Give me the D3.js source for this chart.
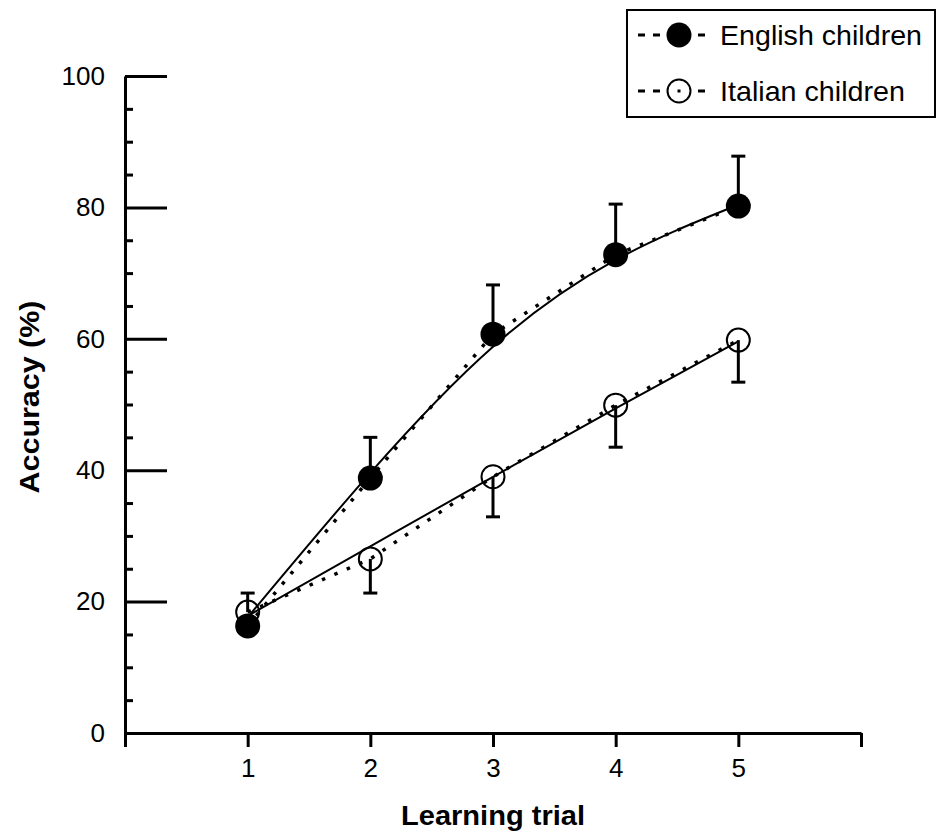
<!DOCTYPE html>
<html>
<head>
<meta charset="utf-8">
<script src="https://cdn.jsdelivr.net/npm/d3@7"></script>
<style>
  html, body { margin: 0; padding: 0; background: #fff; }
  svg { display: block; font-family: "Liberation Sans", Arial, Helvetica, sans-serif; }
</style>
</head>
<body>
<svg id="chart" width="938" height="833"></svg>
<script>
// ---- data ----
const trials = [1, 2, 3, 4, 5];
const englishMean = [16.3, 38.8, 60.7, 72.8, 80.2];
const italianMean = [18.4, 26.5, 39.0, 49.9, 59.8];
// error bar end values (English bars point up, Italian bars mostly down)
const englishBarEnd = [15.0, 45.0, 68.2, 80.5, 87.8];
const italianBarEnd = [21.3, 21.3, 32.9, 43.5, 53.4];
// fitted (solid) trend values
const englishFit = [17.6, 39.6, 58.8, 72.0, 80.4];
const italianFit = [17.8, 28.4, 39.0, 49.4, 59.6];
const yMajorTicks = [0, 20, 40, 60, 80, 100];
const yMinorTicks = [5, 10, 15, 25, 30, 35, 45, 50, 55, 65, 70, 75, 85, 90, 95];
const xTicks = [0, 1, 2, 3, 4, 5, 6];
const xLabels = ["", "1", "2", "3", "4", "5", ""];
const seriesNames = ["English children", "Italian children"];
const xTitle = "Learning trial";
const yTitle = "Accuracy (%)";

// ---- layout ----
const svg = d3.select("#chart");
const x = d3.scaleLinear().domain([0, 6]).range([125, 861]);
const y = d3.scaleLinear().domain([0, 100]).range([733, 76]);

// ---- axes ----
const yMajor = svg.append("g").attr("transform", `translate(${x(0)},0)`)
  .call(d3.axisLeft(y).tickValues(yMajorTicks).tickSize(-42).tickSizeOuter(0).tickPadding(20));
yMajor.select(".domain").attr("stroke-width", 3);
yMajor.selectAll(".tick line").attr("stroke-width", 3);
yMajor.selectAll(".tick text").attr("font-size", 26).attr("fill", "#000")
  .attr("font-family", "Liberation Sans, Arial, sans-serif");

const yMinor = svg.append("g").attr("transform", `translate(${x(0)},0)`)
  .call(d3.axisLeft(y).tickValues(yMinorTicks).tickSize(-8).tickSizeOuter(0).tickFormat(""));
yMinor.select(".domain").remove();
yMinor.selectAll(".tick line").attr("stroke-width", 3);

const xAxis = svg.append("g").attr("transform", `translate(0,${y(0)})`)
  .call(d3.axisBottom(x).tickValues(xTicks).tickSize(14).tickSizeOuter(0).tickPadding(12)
    .tickFormat((d, i) => xLabels[i]));
xAxis.select(".domain").attr("stroke-width", 3);
xAxis.selectAll(".tick line").attr("stroke-width", 3);
xAxis.selectAll(".tick text").attr("font-size", 26).attr("fill", "#000")
  .attr("font-family", "Liberation Sans, Arial, sans-serif");

// titles
svg.append("text").attr("x", 493).attr("y", 825)
  .attr("text-anchor", "middle").attr("font-size", 28).attr("font-weight", "bold")
  .attr("textLength", 184).attr("lengthAdjust", "spacingAndGlyphs")
  .text(xTitle);
svg.append("text").attr("transform", `translate(39,397) rotate(-90)`)
  .attr("text-anchor", "middle").attr("font-size", 27).attr("font-weight", "bold")
  .attr("textLength", 193).attr("lengthAdjust", "spacingAndGlyphs")
  .text(yTitle);

// ---- lines ----
const fitLine = d3.line().x((d, i) => x(trials[i])).y(d => y(d)).curve(d3.curveNatural);
const dotLine = d3.line().x((d, i) => x(trials[i])).y(d => y(d));

[englishFit, italianFit].forEach(s => {
  svg.append("path").attr("d", fitLine(s)).attr("fill", "none")
    .attr("stroke", "#000").attr("stroke-width", 2);
});
[englishMean, italianMean].forEach(s => {
  svg.append("path").attr("d", dotLine(s)).attr("fill", "none")
    .attr("stroke", "#000").attr("stroke-width", 3.5).attr("stroke-dasharray", "3.5 10");
});

// ---- error bars ----
function errorBars(means, ends) {
  const g = svg.append("g");
  trials.forEach((t, i) => {
    g.append("line").attr("x1", x(t)).attr("x2", x(t))
      .attr("y1", y(means[i])).attr("y2", y(ends[i]))
      .attr("stroke", "#000").attr("stroke-width", 3);
    g.append("line").attr("x1", x(t) - 7).attr("x2", x(t) + 7)
      .attr("y1", y(ends[i])).attr("y2", y(ends[i]))
      .attr("stroke", "#000").attr("stroke-width", 3);
  });
}
errorBars(italianMean, italianBarEnd);
errorBars(englishMean, englishBarEnd);

// ---- markers ----
svg.append("g").selectAll("circle").data(italianMean).join("circle")
  .attr("cx", (d, i) => x(trials[i])).attr("cy", d => y(d)).attr("r", 11.5)
  .attr("fill", "none").attr("stroke", "#000").attr("stroke-width", 2);
svg.append("g").selectAll("circle").data(englishMean).join("circle")
  .attr("cx", (d, i) => x(trials[i])).attr("cy", d => y(d)).attr("r", 12.5)
  .attr("fill", "#000");

// ---- legend ----
const lg = svg.append("g");
lg.append("rect").attr("x", 627).attr("y", 10).attr("width", 308).attr("height", 107)
  .attr("fill", "#fff").attr("stroke", "#000").attr("stroke-width", 2);
const rows = [35, 91];
const legendLen = [202, 185];
rows.forEach((ry, i) => {
  lg.append("line").attr("x1", 638).attr("x2", 713).attr("y1", ry).attr("y2", ry)
    .attr("stroke", "#000").attr("stroke-width", 3).attr("stroke-dasharray", "7 8");
  if (i === 0) {
    lg.append("circle").attr("cx", 679).attr("cy", ry).attr("r", 12.5).attr("fill", "#000");
  } else {
    lg.append("circle").attr("cx", 679).attr("cy", ry).attr("r", 11.5).attr("fill", "#fff")
      .attr("stroke", "#000").attr("stroke-width", 2);
    lg.append("rect").attr("x", 677.5).attr("y", ry - 1.5).attr("width", 3).attr("height", 3).attr("fill", "#000");
  }
  lg.append("text").attr("x", 720).attr("y", ry).attr("dy", "0.36em")
    .attr("font-size", 28).attr("textLength", legendLen[i]).attr("lengthAdjust", "spacingAndGlyphs")
    .text(seriesNames[i]);
});
</script>
</body>
</html>
